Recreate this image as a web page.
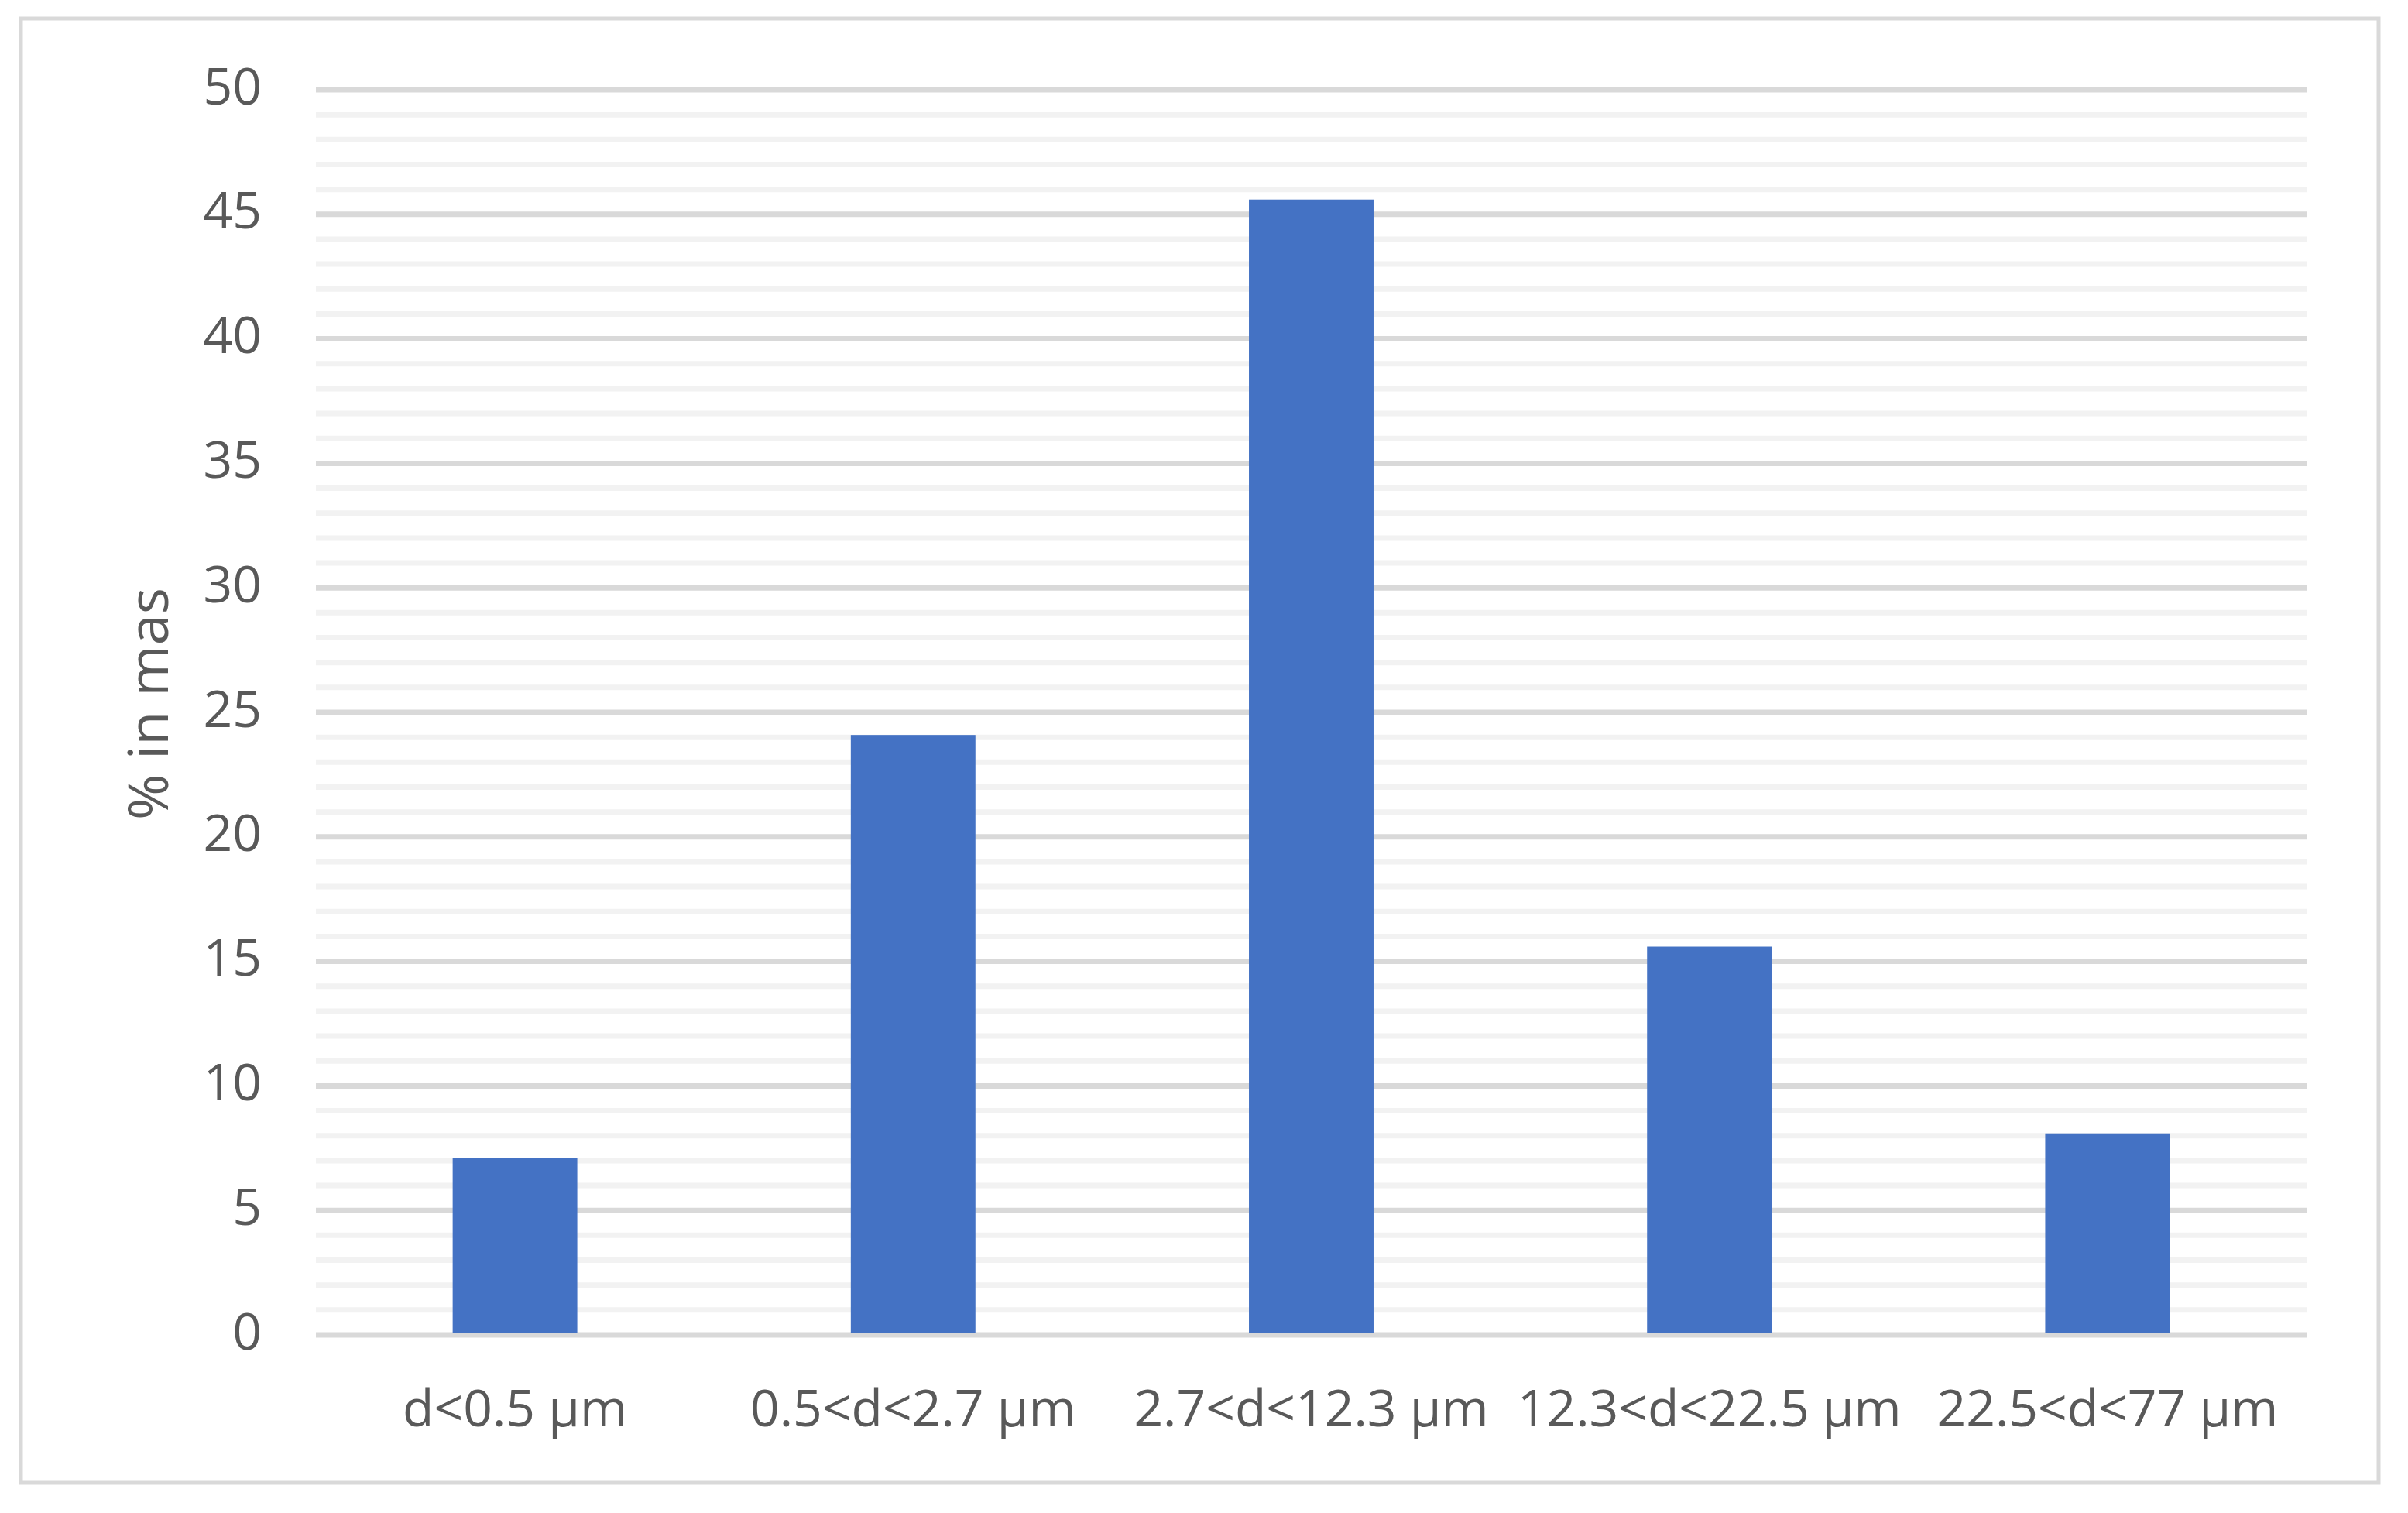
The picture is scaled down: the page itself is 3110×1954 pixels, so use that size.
<!DOCTYPE html>
<html>
<head>
<meta charset="utf-8">
<script src="https://cdn.jsdelivr.net/npm/d3@7"></script>
<style>
  body { margin: 0; background: #fff; }
  text { font-family: "Open Sans", "Noto Sans", sans-serif; fill: #595959; }
</style>
</head>
<body>
<script>
const width = 3110,
  height = 1954;

const margin = { top: 113, right: 131, bottom: 233, left: 408 };
const innerWidth = width - margin.left - margin.right;
const innerHeight = height - margin.top - margin.bottom;

// data
const categories = [
  "d<0.5 μm",
  "0.5<d<2.7 μm",
  "2.7<d<12.3 μm",
  "12.3<d<22.5 μm",
  "22.5<d<77 μm"
];
const values = [7, 24, 45.5, 15.5, 8];
const yTicks = [0, 5, 10, 15, 20, 25, 30, 35, 40, 45, 50];
const yTitle = "% in mas";

const data = categories.map((c, i) => ({ cat: c, value: values[i] }));

const svg = d3
  .select("body")
  .append("svg")
  .attr("width", width)
  .attr("height", height);

// chart frame
svg
  .append("rect")
  .attr("x", 27)
  .attr("y", 24)
  .attr("width", 3045)
  .attr("height", 1891)
  .attr("fill", "#fff")
  .attr("stroke", "#d9d9d9")
  .attr("stroke-width", 5);

const mainG = svg
  .append("g")
  .attr("transform", `translate(${margin.left}, ${margin.top})`);

const xScale = d3
  .scaleBand()
  .domain(categories)
  .range([0, innerWidth])
  .paddingInner(0.687)
  .paddingOuter(0.3435);

const yScale = d3
  .scaleLinear()
  .domain([0, 50])
  .range([innerHeight, 0]);

// minor gridlines every 1, major every 5
const gridG = mainG.append("g").attr("class", "grid");
gridG
  .selectAll("line")
  .data(yScale.ticks(50))
  .enter()
  .append("line")
  .attr("x1", 0)
  .attr("x2", innerWidth)
  .attr("y1", d => yScale(d) + 3)
  .attr("y2", d => yScale(d) + 3)
  .attr("stroke", d => (d % 5 === 0 ? "#d9d9d9" : "#f2f2f2"))
  .attr("stroke-width", 7);

// bars
mainG
  .selectAll("rect.bar")
  .data(data)
  .enter()
  .append("rect")
  .attr("class", "bar")
  .attr("x", d => xScale(d.cat))
  .attr("y", d => yScale(d.value))
  .attr("width", xScale.bandwidth())
  .attr("height", d => innerHeight - yScale(d.value))
  .attr("fill", "#4472c4");

// y axis labels
const yAxis = d3
  .axisLeft(yScale)
  .tickValues(yTicks)
  .tickSize(0)
  .tickPadding(70);

mainG
  .append("g")
  .attr("id", "y-axis")
  .call(yAxis)
  .call(g => g.select(".domain").remove())
  .selectAll("text")
  .attr("font-size", 66)
  .attr("font-family", null)
  .attr("fill", "#595959");

// x axis labels
const xAxis = d3
  .axisBottom(xScale)
  .tickSize(0)
  .tickPadding(74);

mainG
  .append("g")
  .attr("id", "x-axis")
  .attr("transform", `translate(0,${innerHeight})`)
  .call(xAxis)
  .call(g => g.select(".domain").remove())
  .selectAll("text")
  .attr("font-size", 66)
  .attr("font-family", null)
  .attr("fill", "#595959");

// y axis title
mainG
  .append("text")
  .attr("class", "yAxis-label")
  .attr("x", -innerHeight / 2 + 8)
  .attr("y", -216)
  .attr("transform", "rotate(-90)")
  .attr("text-anchor", "middle")
  .attr("dy", "0.35em")
  .attr("font-size", 72)
  .text(yTitle);
</script>
</body>
</html>
